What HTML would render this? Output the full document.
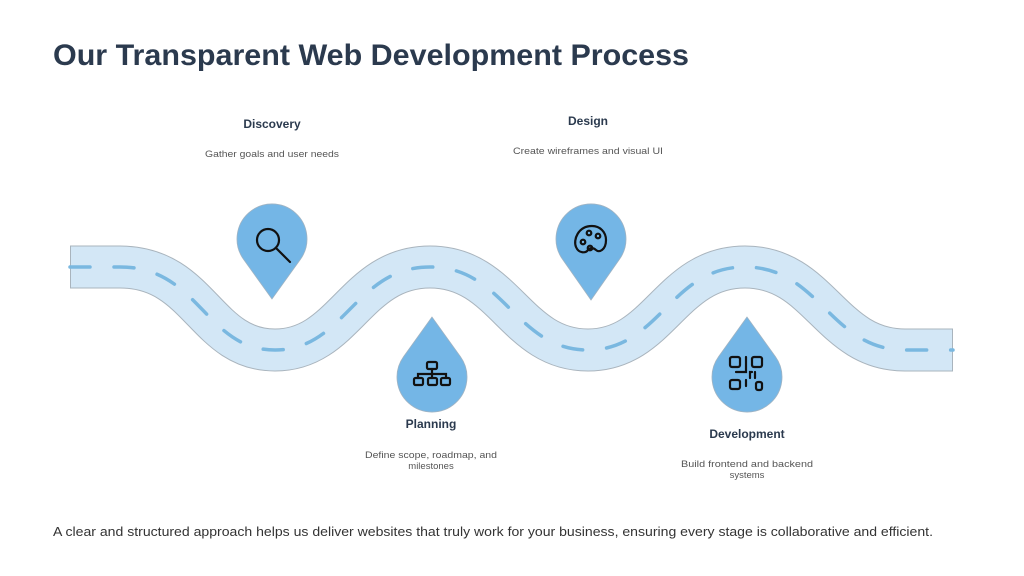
<!DOCTYPE html>
<html><head><meta charset="utf-8"><style>
html,body{margin:0;padding:0;background:#fff;}
svg{display:block}
text{font-family:"Liberation Sans",sans-serif;}
</style></head><body>
<svg width="1024" height="576" viewBox="0 0 1024 576" xmlns="http://www.w3.org/2000/svg">
<rect width="1024" height="576" fill="#fff"/>
<text x="53" y="65" font-size="30" font-weight="bold" fill="#2b3a4e" textLength="636" lengthAdjust="spacingAndGlyphs">Our Transparent Web Development Process</text>

<!-- road -->
<g fill="none">
<path d="M70,267 L120,267 C200,267 205,350 275,350 C345,350 355,267 430,267 C505,267 515,350 588,350 C660,350 670,267 745,267 C820,267 830,350 905,350 L953,350" stroke="#a9b4bd" stroke-width="43"/>
<path d="M71,267 L120,267 C200,267 205,350 275,350 C345,350 355,267 430,267 C505,267 515,350 588,350 C660,350 670,267 745,267 C820,267 830,350 905,350 L952,350" stroke="#d3e7f6" stroke-width="41"/>
<path d="M70,267 L120,267 C200,267 205,350 275,350 C345,350 355,267 430,267 C505,267 515,350 588,350 C660,350 670,267 745,267 C820,267 830,350 905,350 L953,350" stroke="#7ab8e0" stroke-width="3.5" stroke-dasharray="20,24" stroke-linecap="round"/>
</g>

<!-- pins -->
<g fill="#74b6e6" stroke="#9fb3c3" stroke-width="0.8">
<path d="M272,299 L243.6,259.4 A35,35 0 1 1 300.4,259.4 Z"/>
<path d="M591,299 L562.6,258.4 A35,35 0 1 1 619.4,258.4 Z" transform="translate(0,1)"/>
<path d="M432,317 L403.6,356.6 A35,35 0 1 0 460.4,356.6 Z"/>
<path d="M747,317 L718.6,356.6 A35,35 0 1 0 775.4,356.6 Z"/>
</g>

<!-- icons -->
<g fill="none" stroke="#111" stroke-width="2.2" stroke-linecap="round">
<circle cx="268" cy="240" r="11"/>
<line x1="276" y1="248" x2="290" y2="262"/>
<path d="M592,226 C578,226 573,240 576,247 C579,254 586,253 588,250 C590,247 594,248 596,250 C599,253 606,250 606,240 C606,232 600,226 592,226 Z"/>
<circle cx="583" cy="242" r="2.3"/><circle cx="589" cy="233" r="2.3"/><circle cx="598" cy="236" r="2.3"/><circle cx="590" cy="248" r="2.3"/>
<rect x="427" y="362" width="10" height="7" rx="1.5"/>
<rect x="414" y="378" width="9" height="7" rx="1.5"/><rect x="428" y="378" width="9" height="7" rx="1.5"/><rect x="441" y="378" width="9" height="7" rx="1.5"/>
<path d="M432,369 V378 M418,378 V374 H446 V378"/>
<rect x="730" y="357" width="10" height="10" rx="2"/><rect x="752" y="357" width="10" height="10" rx="2"/>
<rect x="730" y="380" width="10" height="9" rx="2"/><rect x="756" y="382" width="6" height="8" rx="2"/>
<path d="M746,357 V372 H736 M752,372 H750 V378 M755,372 V378 M746,380 V386"/>
</g>

<!-- labels -->
<g fill="#2b3a4e" font-weight="bold" font-size="12" text-anchor="middle">
<text x="272" y="128">Discovery</text>
<text x="588" y="125">Design</text>
<text x="431" y="428">Planning</text>
<text x="747" y="438">Development</text>
</g>
<g fill="#555" font-size="9.5" text-anchor="middle">
<text x="272" y="157" textLength="134" lengthAdjust="spacingAndGlyphs">Gather goals and user needs</text>
<text x="588" y="154" textLength="150" lengthAdjust="spacingAndGlyphs">Create wireframes and visual UI</text>
<text x="431" y="458" textLength="132" lengthAdjust="spacingAndGlyphs">Define scope, roadmap, and</text>
<text x="431" y="469">milestones</text>
<text x="747" y="467" textLength="132" lengthAdjust="spacingAndGlyphs">Build frontend and backend</text>
<text x="747" y="478">systems</text>
</g>
<text x="53" y="536" font-size="13" fill="#333" textLength="880" lengthAdjust="spacingAndGlyphs">A clear and structured approach helps us deliver websites that truly work for your business, ensuring every stage is collaborative and efficient.</text>
</svg>
</body></html>
